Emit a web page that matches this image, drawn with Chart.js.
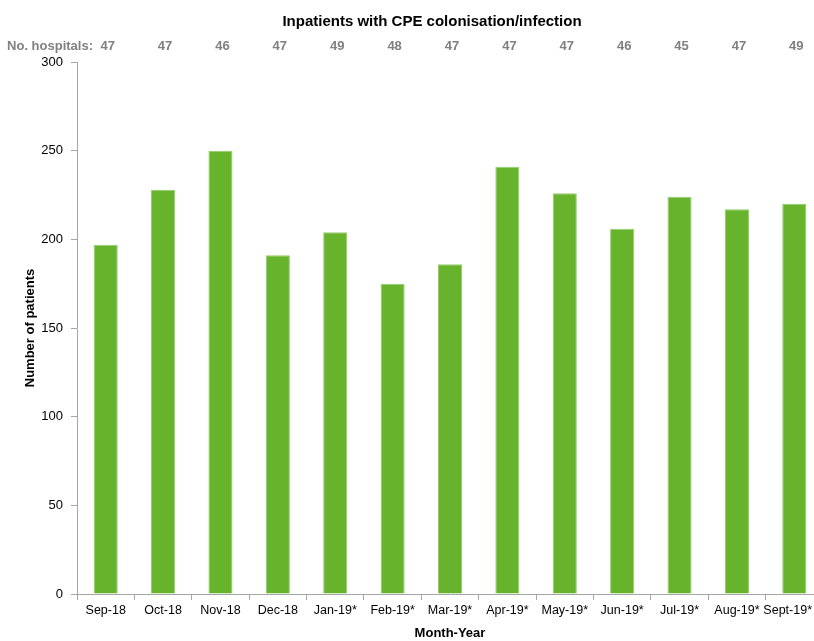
<!DOCTYPE html>
<html>
<head>
<meta charset="utf-8">
<title>Inpatients with CPE colonisation/infection</title>
<script src="https://cdn.jsdelivr.net/npm/chart.js@4/dist/chart.umd.min.js"></script>
<style>
    html, body { margin: 0; padding: 0; background: #fff; overflow: hidden; }
    #wrap { width: 824px; height: 641px; }
</style>
</head>
<body>
<div id="wrap"><canvas id="grafico" width="824" height="641"></canvas></div>
<script>
const MESES = ['Sep-18', 'Oct-18', 'Nov-18', 'Dec-18', 'Jan-19*', 'Feb-19*', 'Mar-19*',
    'Apr-19*', 'May-19*', 'Jun-19*', 'Jul-19*', 'Aug-19*', 'Sept-19*'];
const PACIENTES = [197, 228, 250, 191, 204, 175, 186, 241, 226, 206, 224, 217, 220];
const HOSPITAIS = [47, 47, 46, 47, 49, 48, 47, 47, 47, 46, 45, 47, 49];
const TICKS_Y = [0, 50, 100, 150, 200, 250, 300];

const FONTE = '"Liberation Sans", Arial, sans-serif';
const VERDE = '#67B32C';
const CINZA_EIXO = '#A6A6A6';
const LARGURA_VISIVEL = 814;

/**
 * Desenha o título, a linha "No. hospitals" e os rótulos dos meses.
 * O último rótulo é empurrado para dentro da janela, como no Excel.
 */
const cabecalho = {
    id: 'cabecalho',
    afterDraw(chart) {
        const { ctx } = chart;
        const x = chart.scales.x;
        ctx.save();
        ctx.textBaseline = 'middle';

        ctx.font = 'bold 15px ' + FONTE;
        ctx.fillStyle = '#000';
        ctx.textAlign = 'center';
        ctx.fillText('Inpatients with CPE colonisation/infection', 432, 22);

        ctx.font = 'bold 13px ' + FONTE;
        ctx.fillStyle = '#808080';
        ctx.textAlign = 'right';
        ctx.fillText('No. hospitals:', 93, 46);

        ctx.textAlign = 'center';
        HOSPITAIS.forEach((n, i) => {
            ctx.fillText(String(n), x.getPixelForValue(i) + 2, 46);
        });

        // rótulos do eixo x
        ctx.font = '12.5px ' + FONTE;
        ctx.fillStyle = '#000';
        MESES.forEach((m, i) => {
            const w = ctx.measureText(m).width;
            let cx = x.getPixelForValue(i);
            if (cx + w / 2 > LARGURA_VISIVEL - 2) cx = LARGURA_VISIVEL - 2 - w / 2;
            ctx.fillText(m, cx, x.top + 17);
        });
        ctx.restore();
    }
};

function criarGrafico(canvasId) {
    const ctx = document.getElementById(canvasId)?.getContext('2d');
    if (!ctx) return null;

    return new Chart(ctx, {
        type: 'bar',
        data: {
            labels: MESES,
            datasets: [{
                label: 'Number of patients',
                data: PACIENTES,
                backgroundColor: VERDE,
                borderColor: '#93CC6C',
                borderWidth: 1,
                categoryPercentage: 1,
                barPercentage: 0.42
            }]
        },
        options: {
            responsive: false,
            animation: false,
            layout: {
                padding: { top: 62, left: 0, right: 1, bottom: 0 }
            },
            plugins: {
                legend: { display: false },
                tooltip: { enabled: false }
            },
            scales: {
                x: {
                    afterFit: (s) => { s.height = 47; },
                    grid: {
                        offset: true,
                        drawOnChartArea: false,
                        tickLength: 6,
                        color: CINZA_EIXO
                    },
                    border: { color: CINZA_EIXO },
                    ticks: { display: false },
                    title: {
                        display: true,
                        text: 'Month-Year',
                        color: '#000',
                        padding: { top: 0, bottom: 0 },
                        font: { family: FONTE, size: 13, weight: 'bold' }
                    }
                },
                y: {
                    min: 0,
                    max: 300,
                    afterFit: (s) => { s.width = 77; },
                    afterBuildTicks: (s) => { s.ticks = TICKS_Y.map(v => ({ value: v })); },
                    grid: {
                        drawOnChartArea: false,
                        tickLength: 6,
                        color: CINZA_EIXO
                    },
                    border: { color: CINZA_EIXO },
                    ticks: {
                        padding: 8,
                        color: '#000',
                        font: { family: FONTE, size: 13 }
                    },
                    title: {
                        display: true,
                        text: 'Number of patients',
                        color: '#000',
                        padding: { top: 23, bottom: 0 },
                        font: { family: FONTE, size: 13, weight: 'bold' }
                    }
                }
            }
        },
        plugins: [cabecalho]
    });
}

criarGrafico('grafico');
</script>
</body>
</html>
